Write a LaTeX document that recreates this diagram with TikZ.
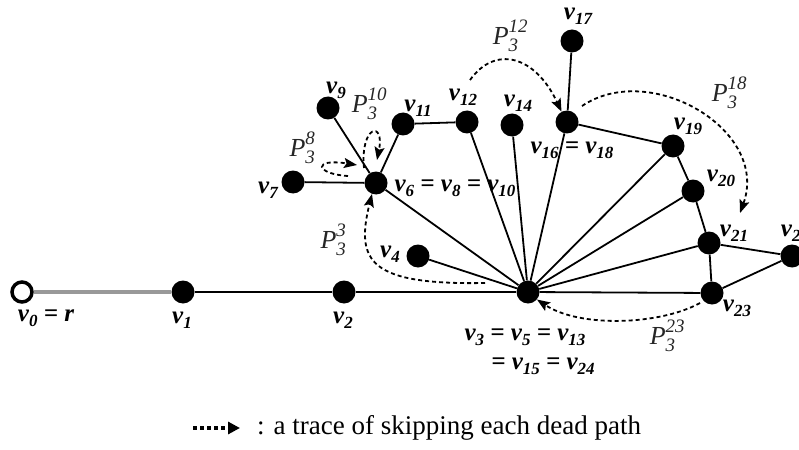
\documentclass[tikz,border=0pt]{standalone}
\usepackage{fontspec}
\setmainfont{Liberation Serif}
\usetikzlibrary{arrows.meta}

\newcommand{\vlab}[1]{v\raisebox{-0.45ex}{\fontsize{17}{17}\selectfont #1}}
\newcommand{\plab}[2]{\textit{P}\rlap{\raisebox{1.0ex}{\fontsize{19}{19}\selectfont\textit{#2}}}\raisebox{-0.55ex}{\fontsize{19}{19}\selectfont\textit{#1}}\hphantom{\fontsize{19}{19}\selectfont\textit{#2}}}

\begin{document}
\begin{tikzpicture}[
    x=1pt, y=-1pt,
    vertex/.style={
        circle,
        fill=black,
        minimum size=23pt,
        inner sep=0pt,
    },
    root/.style={
        circle,
        draw=black,
        line width=3.5pt,
        fill=white,
        minimum size=20pt,
        inner sep=0pt,
    },
    edge/.style={
        line width=1.8pt,
        draw=black
    },
    trace/.style={
        line width=1.8pt,
        dash pattern=on 4pt off 3pt,
        -{Stealth[length=13pt,width=10pt,inset=2.5pt]}
    },
    vname/.style={
        font=\fontsize{25}{25}\selectfont\bfseries\itshape,
        inner sep=0pt
    },
    pname/.style={
        font=\fontsize{26}{26}\selectfont,
        text=black!85,
        inner sep=0pt
    }
]
    \useasboundingbox (0,0) rectangle (799,449);

    \node[root] (0) at (22, 292) {};
    \node[vertex] (1) at (183, 292) {};
    \node[vertex] (2) at (344, 292) {};
    \node[vertex] (3) at (528, 292) {};
    \node[vertex] (4) at (418, 256) {};

    \node[vertex] (6) at (376, 183) {};
    \node[vertex] (7) at (293, 182) {};
    \node[vertex] (9) at (328, 108) {};
    \node[vertex] (11) at (403, 124) {};
    \node[vertex] (12) at (467, 122) {};
    \node[vertex] (14) at (512, 125) {};

    \node[vertex] (16) at (567, 122) {};
    \node[vertex] (17) at (572, 41) {};
    \node[vertex] (19) at (673, 146) {};
    \node[vertex] (20) at (693, 191) {};
    \node[vertex] (21) at (709, 243) {};
    \node[vertex] (22) at (792, 256) {};
    \node[vertex] (23) at (712, 293) {};

    \draw[line width=3.5pt, draw=black!40] (0) -- (1);
    \draw[edge] (1) -- (2);
    \draw[edge] (2) -- (3);
    \draw[edge] (3) -- (4);
    \draw[edge] (3) -- (6);

    \draw[edge] (6) -- (7);
    \draw[edge] (6) -- (9);
    \draw[edge] (6) -- (11);
    \draw[edge] (11) -- (12);
    \draw[edge] (12) -- (3);
    \draw[edge] (14) -- (3);

    \draw[edge] (16) -- (3);
    \draw[edge] (16) -- (17);
    \draw[edge] (16) -- (19);
    \draw[edge] (19) -- (3);
    \draw[edge] (19) -- (20);
    \draw[edge] (20) -- (3);
    \draw[edge] (20) -- (21);
    \draw[edge] (21) -- (3);
    \draw[edge] (21) -- (22);
    \draw[edge] (21) -- (23);
    \draw[edge] (22) -- (23);
    \draw[edge] (23) -- (3);

    % vertex names
    \node[vname] (l0) at (46, 318) {\vlab{0} = r};
    \node[vname] (l1) at (182, 320) {\vlab{1}};
    \node[vname] (l2) at (343, 320) {\vlab{2}};
    \node[vname] (l3a) at (525, 337) {\vlab{3} = \vlab{5} = \vlab{13}};
    \node[vname] (l3b) at (543, 366) {= \vlab{15} = \vlab{24}};
    \node[vname] (l4) at (390, 254) {\vlab{4}};
    \node[vname] (l6) at (455, 188) {\vlab{6} = \vlab{8} = \vlab{10}};
    \node[vname] (l7) at (268, 190) {\vlab{7}};
    \node[vname] (l9) at (336, 90) {\vlab{9}};
    \node[vname] (l11) at (418, 108) {\vlab{11}};
    \node[vname] (l12) at (463, 97) {\vlab{12}};
    \node[vname] (l14) at (518, 103) {\vlab{14}};
    \node[vname] (l16) at (572, 150) {\vlab{16} = \vlab{18}};
    \node[vname] (l17) at (578, 16) {\vlab{17}};
    \node[vname] (l19) at (688, 126) {\vlab{19}};
    \node[vname] (l20) at (721, 178) {\vlab{20}};
    \node[vname] (l21) at (734, 233) {\vlab{21}};
    \node[vname] (l22) at (795, 233) {\vlab{22}};
    \node[vname] (l23) at (737, 308) {\vlab{23}};

    % skipped dead paths
    \coordinate (s3) at (485, 283);
    \coordinate (s8) at (348, 176);
    \coordinate (e8) at (357, 165);
    \coordinate (s10) at (364, 168);
    \coordinate (e10) at (377, 160);
    \coordinate (s12) at (470, 80);
    \coordinate (s18) at (582, 106);
    \coordinate (e18) at (740, 213);
    \coordinate (s23) at (700, 303);

    \draw[trace] (s3) .. controls (370, 285) and (355, 262) .. (6.250);
    \draw[trace] (s8) .. controls (315, 174) and (312, 158) .. (e8);
    \draw[trace] (s10) .. controls (360, 125) and (385, 120) .. (e10);
    \draw[trace] (s12) .. controls (495, 45) and (535, 55) .. (16.118);
    \draw[trace] (s18) .. controls (650, 60) and (770, 130) .. (e18);
    \draw[trace] (s23) .. controls (660, 325) and (580, 328) .. (3.-40);

    \node[pname] (p3) at (338, 240) {\plab{3}{3}};
    \node[pname] (p8) at (307, 148) {\plab{3}{8}};
    \node[pname] (p10) at (374, 104) {\plab{3}{10}};
    \node[pname] (p12) at (515, 36) {\plab{3}{12}};
    \node[pname] (p18) at (734, 93) {\plab{3}{18}};
    \node[pname] (p23) at (672, 336) {\plab{3}{23}};

    % legend
    \coordinate (k1) at (193, 428);
    \coordinate (k2) at (240, 428);
    \draw[line width=4pt, dash pattern=on 4pt off 3pt, -{Triangle[length=12pt,width=12pt]}] (k1) -- (k2);
    \node[anchor=west, font=\fontsize{27}{27}\selectfont, inner sep=0pt] (key) at (257, 428) {: a trace of skipping each dead path};
\end{tikzpicture}
\end{document}
